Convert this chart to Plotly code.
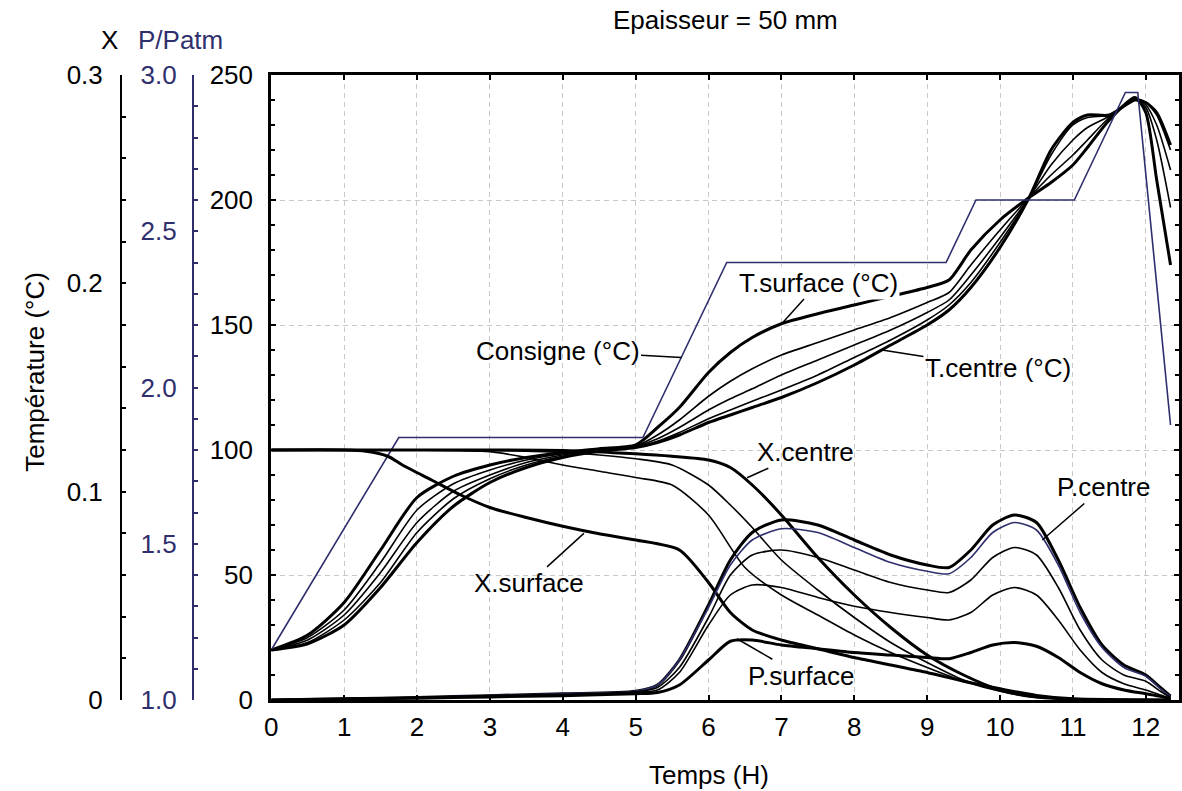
import plotly.graph_objects as go

# ---- Consigne (°C)
t_consigne = [0, 1.75, 5.1, 6.25, 9.26, 9.67, 11.02, 11.72, 11.89, 12.34]
consigne = [20, 105, 105, 175, 175, 200, 200, 243, 243, 110]

# ---- Températures (°C), de la surface au centre
temps_T = [0, 0.5, 1, 1.5, 2, 2.5, 3, 3.5, 4, 4.5, 5,
           5.3, 5.6, 6, 6.3, 6.6, 7, 7.5, 8, 8.5, 9,
           9.3, 9.6, 10, 10.4, 10.7, 11, 11.2, 11.5, 11.85,
           12, 12.15, 12.34]
T_surface = [20, 26, 39, 60, 81, 89.5, 94, 97, 99, 100.5, 102,
             109, 117, 131, 139, 145, 150.5, 154.5, 158, 161.5, 165,
             168, 180, 192, 201, 207, 214, 221, 232, 241,
             235, 208, 174]
T_2 = [20, 25, 36, 55, 76, 86.5, 92, 96, 98.5, 100, 101.5,
       106, 112, 121.5, 127.5, 132.5, 138, 143, 148, 153, 159,
       163, 174, 188, 201, 210, 218, 224, 233, 240,
       237, 224, 197]
T_3 = [20, 24, 34, 51, 71, 83.5, 90, 95, 98, 100, 101.5,
       104.5, 109, 116, 120.5, 124.5, 130, 136, 142, 148, 155,
       160, 170, 185, 201, 214, 224, 229, 233.5, 240,
       238, 230, 212]
T_4 = [20, 23, 32, 47, 67, 80.5, 88.5, 94, 97.5, 99.5, 101,
       103.5, 107, 112.5, 116, 119.5, 124, 130, 137, 144, 152,
       158, 167, 183, 201, 218, 230, 233, 234, 240,
       239, 234, 220]
T_centre = [20, 22.5, 30, 45, 63, 77.5, 87, 93, 97, 99.5, 101,
            103, 106, 111, 114, 117, 121, 127, 134, 142, 150,
            156, 165, 181, 201, 220, 231, 234, 234, 240,
            239, 235, 222]

# ---- Teneur en eau X
t_Xc = [0, 1, 2, 3, 4, 5, 5.5, 6, 6.3, 6.6, 7, 7.5, 8, 8.5, 9, 9.5, 10, 10.5, 11, 11.5, 12.34]
X_centre = [0.12, 0.12, 0.12, 0.12, 0.1198, 0.1182, 0.117, 0.1152, 0.1116, 0.1032, 0.0888,
            0.0684, 0.0504, 0.0348, 0.0216, 0.012, 0.0048, 0.0014, 0.0004, 0, 0]
t_X2 = [0, 1, 2, 3, 3.5, 4, 4.5, 5, 5.5, 6, 6.3, 6.6, 7, 7.5, 8, 8.5, 9, 9.5, 10, 10.5, 11, 12.34]
X_2 = [0.12, 0.12, 0.12, 0.1198, 0.1194, 0.1188, 0.1176, 0.1158, 0.1128, 0.1032, 0.0936,
       0.0828, 0.0672, 0.0528, 0.0396, 0.0276, 0.018, 0.0096, 0.0048, 0.0014, 0.0004, 0]
t_X3 = [0, 1, 2, 3, 3.5, 4, 4.5, 5, 5.5, 6, 6.5, 7, 7.5, 8, 8.5, 9, 9.5, 10, 10.5, 11, 12.34]
X_3 = [0.12, 0.12, 0.12, 0.1192, 0.1164, 0.1128, 0.1098, 0.1068, 0.1032, 0.0888, 0.0636,
       0.0504, 0.0408, 0.0312, 0.0228, 0.0156, 0.009, 0.0042, 0.0012, 0.0004, 0]
t_Xs = [0, 1, 1.3, 1.6, 1.8, 2.2, 2.6, 3, 3.5, 4, 4.5, 5, 5.6, 6, 6.3, 6.6, 7, 7.5,
        8, 8.5, 9, 9.5, 10, 10.5, 11, 12.34]
X_surface = [0.12, 0.12, 0.1194, 0.117, 0.1128, 0.1056, 0.0984, 0.0924, 0.0876, 0.0834,
             0.0798, 0.0768, 0.072, 0.0564, 0.042, 0.0336, 0.0288, 0.0246, 0.0204, 0.0168,
             0.0132, 0.009, 0.0054, 0.0022, 0.0006, 0]

# ---- Pression P/Patm
temps_P = [0, 1, 2, 3, 4, 5, 5.3, 5.6, 6, 6.3, 6.6, 7, 7.5, 8, 8.5, 9, 9.3,
           9.6, 9.9, 10.2, 10.5, 10.8, 11.1, 11.4, 11.7, 12, 12.2, 12.34]
P_centre = [1.0, 1.004, 1.008, 1.014, 1.02, 1.028, 1.048, 1.128, 1.304, 1.448, 1.536, 1.576,
            1.56, 1.512, 1.464, 1.432, 1.424, 1.48, 1.56, 1.592, 1.568, 1.448, 1.296, 1.176,
            1.112, 1.08, 1.04, 1.012]
P_2 = [1.0, 1.004, 1.008, 1.014, 1.02, 1.028, 1.048, 1.128, 1.296, 1.432, 1.512, 1.548,
       1.536, 1.488, 1.44, 1.412, 1.404, 1.456, 1.536, 1.568, 1.544, 1.432, 1.28, 1.168,
       1.104, 1.076, 1.036, 1.01]
P_3 = [1.0, 1.004, 1.008, 1.014, 1.018, 1.026, 1.04, 1.104, 1.264, 1.4, 1.464, 1.48,
       1.456, 1.416, 1.376, 1.352, 1.344, 1.384, 1.456, 1.488, 1.464, 1.36, 1.224, 1.128,
       1.08, 1.06, 1.028, 1.008]
P_4 = [1.0, 1.004, 1.008, 1.012, 1.016, 1.024, 1.032, 1.088, 1.24, 1.336, 1.368, 1.36,
       1.328, 1.3, 1.28, 1.264, 1.256, 1.28, 1.336, 1.36, 1.336, 1.256, 1.16, 1.088,
       1.052, 1.032, 1.016, 1.004]
P_surface = [1.0, 1.003, 1.006, 1.01, 1.014, 1.02, 1.024, 1.048, 1.128, 1.188, 1.192, 1.176,
             1.164, 1.152, 1.144, 1.136, 1.132, 1.152, 1.176, 1.184, 1.172, 1.136, 1.088,
             1.052, 1.032, 1.02, 1.012, 1.004]

bleu = '#2f2f6e'
police = 'Liberation Sans, Arial, sans-serif'
epais = 3
fin = 1.6

fig = go.Figure()

def courbe(x, y, w, axe='y', couleur='black'):
    fig.add_trace(go.Scatter(x=x, y=y, yaxis=axe, mode='lines',
                             line=dict(color=couleur, width=w, shape='spline', smoothing=0.7)))

for y, w in zip([T_surface, T_2, T_3, T_4, T_centre], [epais, fin, fin, fin, epais]):
    courbe(temps_T, y, w)

courbe(t_Xc, X_centre, epais, 'y2')
courbe(t_X2, X_2, fin, 'y2')
courbe(t_X3, X_3, fin, 'y2')
courbe(t_Xs, X_surface, epais, 'y2')

courbe(temps_P, P_centre, epais, 'y3')
courbe(temps_P, P_2, fin, 'y3', bleu)
courbe(temps_P, P_3, fin, 'y3')
courbe(temps_P, P_4, fin, 'y3')
courbe(temps_P, P_surface, epais, 'y3')

fig.add_trace(go.Scatter(x=t_consigne, y=consigne, mode='lines', line=dict(color=bleu, width=1.6)))

W, H = 1182, 791
x0 = 266.5 / W

grille = dict(showgrid=True, gridcolor='#c8c8c8', griddash='5px,4px', gridwidth=1)

fig.update_layout(
    width=W, height=H,
    margin=dict(l=0, r=0, t=75, b=91),
    paper_bgcolor='white', plot_bgcolor='white',
    showlegend=False,
    font=dict(family=police, size=26, color='black'),
    xaxis=dict(domain=[x0, 1], range=[0, 12.456], tickvals=list(range(13)),
               ticks='inside', ticklen=5, tickwidth=1.5, tickcolor='black',
               showline=True, linewidth=3, linecolor='black', mirror='ticks',
               zeroline=False, ticklabelstandoff=2, **grille),
    yaxis=dict(range=[0, 250], tickvals=[0, 50, 100, 150, 200, 250],
               ticks='inside', ticklen=5, tickwidth=1.5, tickcolor='black',
               showline=True, linewidth=3, linecolor='black', mirror='ticks',
               zeroline=False, ticklabelstandoff=10,
               minor=dict(dtick=10, ticks='inside', ticklen=4, tickcolor='black', showgrid=False),
               **grille),
    yaxis2=dict(overlaying='y', anchor='free', position=115 / W, side='left',
                range=[0, 0.3], tickvals=[0, 0.1, 0.2, 0.3], ticktext=['0', '0.1', '0.2', '0.3'],
                ticks='inside', ticklen=4, tickwidth=1.5, tickcolor='black',
                showline=True, linewidth=2, linecolor='black', showgrid=False, zeroline=False,
                ticklabelstandoff=12,
                minor=dict(dtick=0.02, ticks='inside', ticklen=4, tickcolor='black')),
    yaxis3=dict(overlaying='y', anchor='free', position=187.5 / W, side='left',
                range=[1, 3], tickvals=[1, 1.5, 2, 2.5, 3], tickformat='.1f',
                ticks='inside', ticklen=4, tickwidth=1.5, tickcolor=bleu,
                showline=True, linewidth=2, linecolor=bleu, showgrid=False, zeroline=False,
                tickfont=dict(color=bleu), ticklabelstandoff=10,
                minor=dict(dtick=0.1, ticks='inside', ticklen=4, tickcolor=bleu)),
)

# titres
def texte(x, y, t, **kw):
    fig.add_annotation(x=x / W, y=(700 - y) / 625, xref='paper', yref='paper', text=t,
                       showarrow=False, xanchor='center', yanchor='middle', **kw)

texte(725, 20, 'Epaisseur = 50 mm')
texte(103, 40, 'X')
texte(175, 40, 'P/Patm', font=dict(color=bleu))
texte(28, 372, 'Température (°C)', textangle=-90)
texte(708, 775, 'Temps (H)')

# étiquettes des courbes
def etiquette(x, y, t, ax, ay, axe='y', fond=None):
    fig.add_annotation(x=x, y=y, xref='x', yref=axe, text=t, showarrow=True,
                       arrowhead=0, arrowwidth=1.5, arrowcolor='black', standoff=0,
                       ax=ax, ay=ay, bgcolor=fond)

etiquette(5.63, 137, 'Consigne (°C)', -124, -7)
etiquette(7.02, 151, 'T.surface (°C)', 36, -40, fond='white')
etiquette(8.38, 140, 'T.centre (°C)', 116, 18)
etiquette(6.53, 0.1067, 'X.centre', 58, -26, 'y2')
etiquette(4.29, 0.080, 'X.surface', -55, 50, 'y2')
etiquette(10.58, 1.512, 'P.centre', 61, -53, 'y3')
etiquette(6.39, 1.196, 'P.surface', 64, 37, 'y3')

# pas de marge de page autour de la figure
fig.write_html("out.html", config={'displayModeBar': False},
               post_script="document.body.style.margin='0';")
